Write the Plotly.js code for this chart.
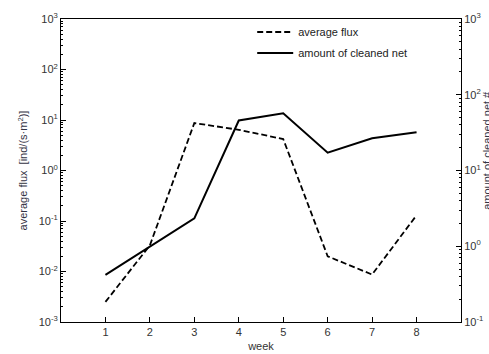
<!DOCTYPE html>
<html>
<head>
<meta charset="utf-8">
<script src="https://cdn.plot.ly/plotly-3.0.1.min.js"></script>
<style>html,body{margin:0;padding:0;background:#fff;overflow:hidden;}#chart{width:489px;height:354px;}</style>
</head>
<body>
<div id="chart"></div>
<script>
var weeks = [1, 2, 3, 4, 5, 6, 7, 8];
var averageFlux = [0.0025, 0.033, 8.7, 6.4, 4.2, 0.020, 0.0087, 0.13];
var cleanedNet = [0.42, 0.98, 2.33, 45.7, 57, 17.2, 26.7, 32];
var leftTickVals = [0.001, 0.01, 0.1, 1, 10, 100, 1000];
var leftTickText = ['10<sup>-3</sup>', '10<sup>-2</sup>', '10<sup>-1</sup>', '10<sup>0</sup>', '10<sup>1</sup>', '10<sup>2</sup>', '10<sup>3</sup>'];
var rightTickVals = [0.1, 1, 10, 100, 1000];
var rightTickText = ['10<sup>-1</sup>', '10<sup>0</sup>', '10<sup>1</sup>', '10<sup>2</sup>', '10<sup>3</sup>'];

var traces = [
  {x: weeks, y: averageFlux, name: 'average flux', type: 'scatter', mode: 'lines', legendgroup: 'a',
   line: {color: '#000', width: 1.8, dash: '6px,3px'}, yaxis: 'y'},
  {x: weeks, y: cleanedNet, name: 'amount of cleaned net', type: 'scatter', mode: 'lines', legendgroup: 'b',
   line: {color: '#000', width: 2}, yaxis: 'y2'}
];

var fam = 'Arial, Liberation Sans, sans-serif';
var tickFont = {family: fam, size: 11, color: '#333'};
var layout = {
  width: 489, height: 354,
  margin: {l: 61, r: 28, t: 19, b: 32},
  paper_bgcolor: '#fff', plot_bgcolor: '#fff',
  showlegend: true,
  legend: {x: 0.478, y: 1.005, xanchor: 'left', yanchor: 'top', bgcolor: 'rgba(0,0,0,0)',
           traceorder: 'grouped', tracegroupgap: 2, itemwidth: 36,
           font: {family: fam, size: 11, color: '#222'}},
  xaxis: {range: [0, 9], tickvals: weeks, ticks: 'inside', ticklen: 5, tickcolor: '#000',
          showline: true, linecolor: '#000', linewidth: 1, mirror: true, showgrid: false, zeroline: false,
          tickfont: tickFont,
          title: {text: 'week', font: {family: fam, size: 11, color: '#333'}, standoff: 5}},
  yaxis: {type: 'log', range: [-3, 3], tickvals: leftTickVals, ticktext: leftTickText,
          ticks: 'inside', ticklen: 5, tickcolor: '#000',
          minor: {ticks: 'inside', ticklen: 2, tickcolor: '#000', showgrid: false, dtick: 'D1'},
          showline: true, linecolor: '#000', linewidth: 1, showgrid: false, zeroline: false,
          tickfont: tickFont,
          title: {text: 'average flux  [ind/(s·m<sup>2</sup>)]', font: {family: fam, size: 11, color: '#334'}, standoff: 8}},
  yaxis2: {type: 'log', range: [-1, 3], overlaying: 'y', side: 'right',
           tickvals: rightTickVals, ticktext: rightTickText,
           ticks: 'inside', ticklen: 5, tickcolor: '#000',
           minor: {ticks: 'inside', ticklen: 2, tickcolor: '#000', showgrid: false, dtick: 'D1'},
           showline: true, linecolor: '#000', linewidth: 1, showgrid: false, zeroline: false,
           tickfont: tickFont},
  annotations: [
    {text: 'amount of cleaned net #', xref: 'paper', yref: 'paper', x: 1.0, xshift: 26, xanchor: 'center',
     y: 0.565, yanchor: 'middle', textangle: -90, showarrow: false,
     font: {family: fam, size: 11, color: '#334'}}
  ]
};

Plotly.newPlot('chart', traces, layout, {displayModeBar: false, staticPlot: true});
</script>
</body>
</html>
